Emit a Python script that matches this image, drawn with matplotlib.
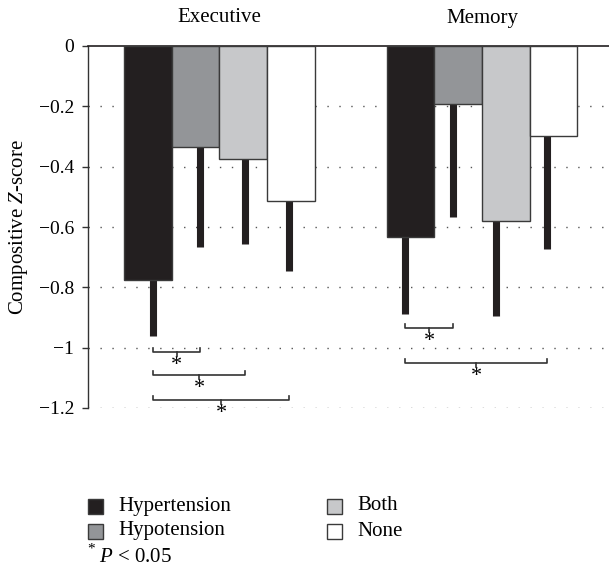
import matplotlib
matplotlib.use("Agg")
import matplotlib.pyplot as plt
import matplotlib.transforms as mtransforms
from matplotlib.patches import Rectangle
import numpy as np

plt.rcParams['font.family'] = ['Liberation Serif', 'DejaVu Serif']
plt.rcParams['mathtext.fontset'] = 'custom'
plt.rcParams['mathtext.rm'] = 'Liberation Serif'
plt.rcParams['mathtext.it'] = 'Liberation Serif:italic'

# ---- data ----
domains = ["Executive", "Memory"]
groups = ["Hypertension", "Hypotension", "Both", "None"]
executive_means = [-0.775, -0.335, -0.375, -0.514]
executive_err = [0.186, 0.331, 0.281, 0.232]
memory_means = [-0.633, -0.192, -0.580, -0.298]
memory_err = [0.256, 0.374, 0.315, 0.376]
yticks = [0, -0.2, -0.4, -0.6, -0.8, -1.0, -1.2]
ytick_labels = ["0", "\u22120.2", "\u22120.4", "\u22120.6", "\u22120.8", "\u22121", "\u22121.2"]
# significance brackets: (domain index, bar i, bar j, level)
brackets = [(0, 0, 1, -1.014), (0, 0, 2, -1.090), (0, 0, 3, -1.173),
            (1, 0, 1, -0.935), (1, 0, 3, -1.050)]

# ---- style ----
colors = ["#231f20", "#939598", "#c7c8ca", "#ffffff"]
edge = "#3a3a3a"
# small horizontal shifts of the error bars as drawn in the original (pixels)
err_shift_px = [[5.5, 4.0, 1.5, -2.0], [-5.0, -5.0, -9.5, -6.5]]

fig = plt.figure(figsize=(6.09, 5.67), dpi=100)
ax = fig.add_axes([88/609, 1-408/567, (609-88)/609, (408-46)/567])

xlim = (-0.501, 1.484)
px = (xlim[1] - xlim[0]) / 521.0
w = 0.1817
offsets = (np.arange(4) - 1.5) * w
means = [executive_means, memory_means]
errs = [executive_err, memory_err]

for d in range(2):
    for k in range(4):
        x = d + offsets[k]
        ax.bar(x, means[d][k], width=w, color=colors[k], edgecolor=edge,
               linewidth=1.0, zorder=3)
        xe = x + err_shift_px[d][k] * px
        ax.vlines(xe, means[d][k], means[d][k] - errs[d][k], color="#231f20",
                  linewidth=5.1, zorder=2)

# grid
for t in yticks[1:]:
    ax.axhline(t, color="#555555", linewidth=1.0, linestyle=(0, (1, 7.6)), zorder=1)

ax.set_xlim(*xlim)
ax.set_ylim(-1.2, 0)
ax.set_yticks(yticks)
ax.set_yticklabels(ytick_labels, fontsize=14)
ax.set_xticks([])
ax.tick_params(axis='y', length=4, width=1, direction='out', pad=6, color="#333333")
for s in ["right", "bottom"]:
    ax.spines[s].set_visible(False)
ax.spines["top"].set_linewidth(1.2)
ax.spines["top"].set_color("#231f20")
ax.spines["left"].set_linewidth(1.0)
ax.spines["left"].set_color("#333333")
ax.set_ylabel("Compositive $Z$-score", fontsize=15, labelpad=6)

# domain titles
for d, name in enumerate(domains):
    tr = mtransforms.offset_copy(ax.transData, fig=fig, x=0, y=28*0.72, units='points')
    ax.text(d, 0, name, transform=tr, ha='center', va='center', fontsize=15)

# brackets
tick = 0.013
for d, i, j, lvl in brackets:
    x1 = d + offsets[i] + err_shift_px[d][i] * px
    x2 = d + offsets[j] + err_shift_px[d][j] * px
    xm = (x1 + x2) / 2
    ax.plot([x1, x1, x2, x2], [lvl + tick, lvl, lvl, lvl + tick], color="#333333",
            linewidth=1.2, clip_on=False, zorder=4)
    ax.plot([xm, xm], [lvl, lvl - tick], color="#333333", linewidth=1.2,
            clip_on=False, zorder=4)
    ax.text(xm, lvl - 0.045, "*", ha='center', va='center', fontsize=16,
            clip_on=False)

# legend (manual)
leg_cols = [88, 88, 327, 327]
leg_rows = [506, 531, 506, 531]
for k, name in enumerate(groups):
    x0 = leg_cols[k]
    yc = leg_rows[k]
    fig.patches.append(Rectangle((x0/609, 1-(yc+7.5)/567), 15/609, 15/567,
                                 transform=fig.transFigure, facecolor=colors[k],
                                 edgecolor=edge, linewidth=1.0))
    fig.text((x0+30)/609, 1-yc/567, name, ha='left', va='center', fontsize=15)
fig.text(87/609, 1-553/567, "*", ha='left', va='baseline', fontsize=11)
fig.text(99/609, 1-562/567, r"$\mathit{P}$ < 0.05", ha='left', va='baseline', fontsize=15)

fig.savefig("out.png", dpi=100)
